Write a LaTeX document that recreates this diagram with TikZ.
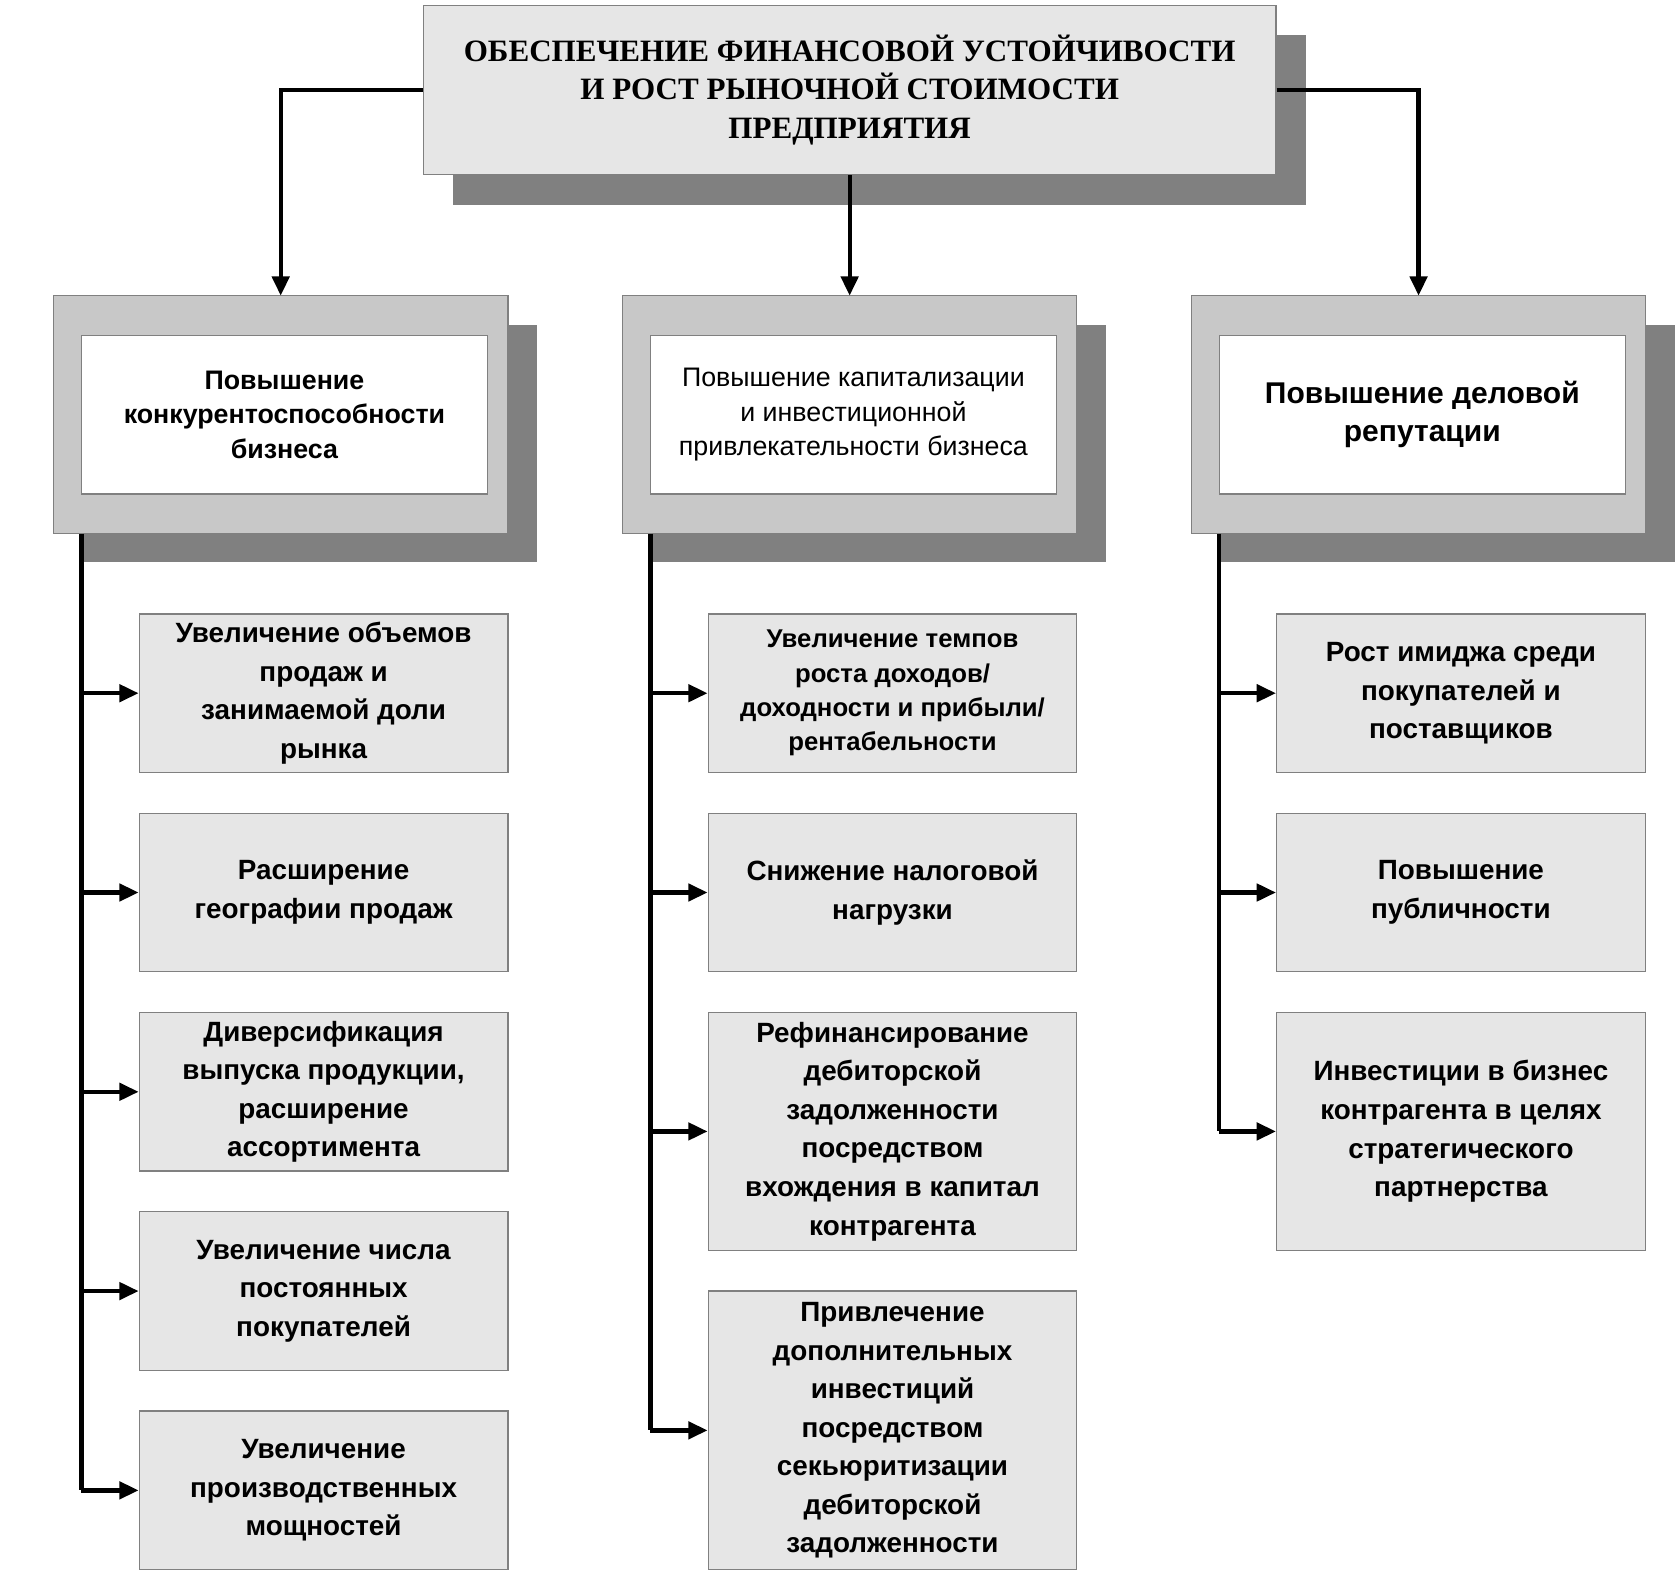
\documentclass[tikz,border=0pt]{standalone}
\usepackage{fontspec}
\setmainfont{Liberation Sans}
\newfontfamily\titlefont{Liberation Serif}
\usetikzlibrary{arrows.meta}
\definecolor{boxgray}{HTML}{E6E6E6}
\definecolor{framegray}{HTML}{C8C8C8}
\definecolor{shadegray}{HTML}{808080}
\begin{document}
\begin{tikzpicture}[x=0.5pt,y=-0.5pt,line width=2pt]
\tikzset{
  item/.style={rectangle, draw=shadegray, line width=0.6pt, fill=boxgray, minimum width=172pt, align=center, font=\bfseries\fontsize{13}{18}\selectfont, inner sep=2pt},
  goal/.style={rectangle, draw=shadegray, line width=0.6pt, fill=white, minimum width=189.5pt, minimum height=74pt, align=center, inner sep=2pt},
  frame/.style={draw=shadegray, line width=0.6pt, fill=framegray},
  shade/.style={fill=shadegray},
  link/.style={-{Triangle[length=9pt,width=8pt]}}
}
\useasboundingbox (0,0) rectangle (1568,1470);
% title
\fill[shade] (423,33) rectangle (1219,191);
\node[rectangle, draw=shadegray, line width=0.6pt, fill=boxgray, minimum width=398pt, minimum height=79pt, align=center,
  font=\titlefont\bfseries\fontsize{14.5}{18}\selectfont] (top) at (793,84)
  {ОБЕСПЕЧЕНИЕ ФИНАНСОВОЙ УСТОЙЧИВОСТИ\\И РОСТ РЫНОЧНОЙ СТОИМОСТИ\\ПРЕДПРИЯТИЯ};
% three directions
\foreach \x/\n in {50/L,581/M,1112/R}{
  \fill[shade] (\x+27,303) rectangle (\x+451,525);
  \draw[frame] (\x,276) rectangle (\x+424,498);
  \coordinate (\n-top) at (\x+212,276);
  \coordinate (\n-bot) at (\x+26,498);
}
\node[goal, font=\bfseries\fontsize{12.5}{16}\selectfont] (gL) at (265.5,387) {Повышение\\конкурентоспособности\\бизнеса};
\node[goal, font=\fontsize{12.5}{16}\selectfont] (gM) at (796.5,387) {Повышение капитализации\\и инвестиционной\\привлекательности бизнеса};
\node[goal, font=\bfseries\fontsize{14}{18}\selectfont] (gR) at (1327.5,387) {Повышение деловой\\репутации};
% arrows from title
\draw[link] (top.west) -| (L-top);
\draw[link] (top.south) -- (M-top);
\draw[link] (top.east) -| (R-top);
% left column
\node[item, minimum height=74pt] (l1) at (302,647) {Увеличение объемов\\продаж и\\занимаемой доли\\рынка};
\node[item, minimum height=74pt] (l2) at (302,833) {Расширение\\географии продаж};
\node[item, minimum height=74pt] (l3) at (302,1019) {Диверсификация\\выпуска продукции,\\расширение\\ассортимента};
\node[item, minimum height=74pt] (l4) at (302,1205) {Увеличение числа\\постоянных\\покупателей};
\node[item, minimum height=74pt] (l5) at (302,1391) {Увеличение\\производственных\\мощностей};
\draw (L-bot) -- (76,1391);
\foreach \n/\y in {l1/647,l2/833,l3/1019,l4/1205,l5/1391}
  \draw[link] (76,\y) -- (\n.west);
% middle column
\node[item, minimum height=74pt, font=\bfseries\fontsize{12}{16}\selectfont] (m1) at (833,647) {Увеличение темпов\\роста доходов/\\доходности и прибыли/\\рентабельности};
\node[item, minimum height=74pt] (m2) at (833,833) {Снижение налоговой\\нагрузки};
\node[item, minimum height=111pt] (m3) at (833,1056) {Рефинансирование\\дебиторской\\задолженности\\посредством\\вхождения в капитал\\контрагента};
\node[item, minimum height=130pt] (m4) at (833,1335) {Привлечение\\дополнительных\\инвестиций\\посредством\\секьюритизации\\дебиторской\\задолженности};
\draw (M-bot) -- (607,1335);
\foreach \n/\y in {m1/647,m2/833,m3/1056,m4/1335}
  \draw[link] (607,\y) -- (\n.west);
% right column
\node[item, minimum height=74pt] (r1) at (1363.5,647) {Рост имиджа среди\\покупателей и\\поставщиков};
\node[item, minimum height=74pt] (r2) at (1363.5,833) {Повышение\\публичности};
\node[item, minimum height=111pt] (r3) at (1363.5,1056) {Инвестиции в бизнес\\контрагента в целях\\стратегического\\партнерства};
\draw (R-bot) -- (1138,1056);
\foreach \n/\y in {r1/647,r2/833,r3/1056}
  \draw[link] (1138,\y) -- (\n.west);
\end{tikzpicture}
\end{document}
